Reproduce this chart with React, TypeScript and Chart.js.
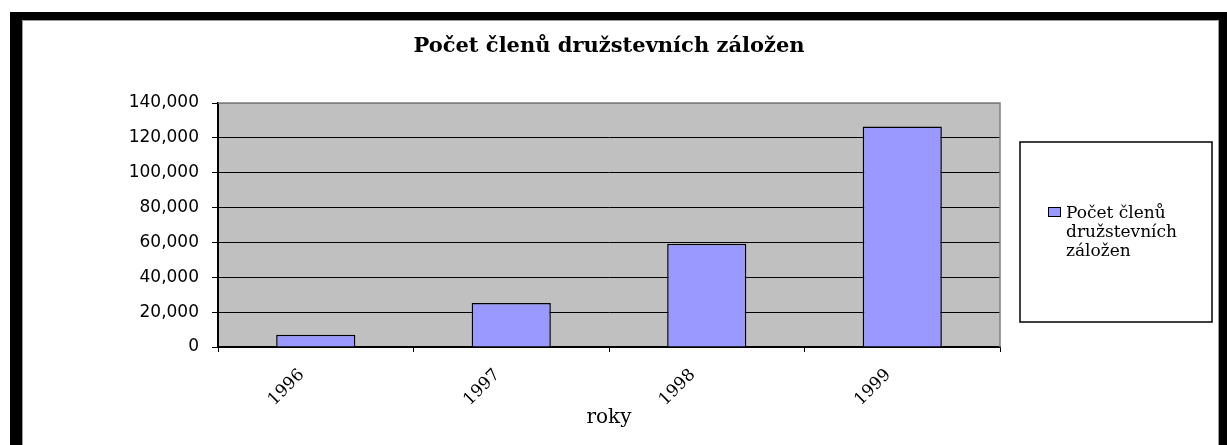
import React, { useEffect, useRef } from 'react';
import { Chart, registerables } from 'chart.js';

Chart.register(...registerables);

const chartTitle = 'Počet členů družstevních záložen';
const categories = ['1996', '1997', '1998', '1999'];
const memberCounts = [7000, 25300, 59300, 126500];
const seriesLabel = 'Počet členů družstevních záložen';
const legendLines = ['Počet členů', 'družstevních', 'záložen'];
const xAxisTitle = 'roky';
const yMin = 0;
const yMax = 140000;
const yStep = 20000;

const plotDecor = {
  id: 'plotDecor',
  beforeDraw(chart: any) {
    const { ctx, chartArea: a } = chart;
    ctx.save();
    ctx.fillStyle = '#ffffff';
    ctx.fillRect(0, 0, chart.width, chart.height);
    ctx.fillStyle = '#c0c0c0';
    ctx.fillRect(a.left, a.top, a.right - a.left, a.bottom - a.top);
    ctx.restore();
  },
  beforeDatasetsDraw(chart: any) {
    const { ctx, chartArea: a } = chart;
    ctx.save();
    ctx.strokeStyle = '#808080';
    ctx.lineWidth = 1.5;
    ctx.beginPath();
    ctx.moveTo(a.left, a.top);
    ctx.lineTo(a.right, a.top);
    ctx.lineTo(a.right, a.bottom);
    ctx.stroke();
    ctx.restore();
  },
  afterDraw(chart: any) {
    const { ctx, chartArea: a } = chart;
    const ds = chart.data.datasets[0];
    const left = a.right + 20;
    const top = a.top + 39;
    const w = 192;
    const h = 180;
    ctx.save();
    ctx.fillStyle = '#ffffff';
    ctx.fillRect(left, top, w, h);
    ctx.strokeStyle = '#000000';
    ctx.lineWidth = 1.5;
    ctx.strokeRect(left, top, w, h);
    ctx.fillStyle = ds.backgroundColor;
    ctx.fillRect(left + 28, top + 65, 13, 10);
    ctx.lineWidth = 1;
    ctx.strokeStyle = '#000000';
    ctx.strokeRect(left + 28.5, top + 65.5, 12, 9);
    ctx.fillStyle = '#000000';
    ctx.font = '17px "DejaVu Serif"';
    ctx.textAlign = 'left';
    ctx.textBaseline = 'alphabetic';
    legendLines.forEach((line, i) => {
      ctx.fillText(line, left + 46, top + 76 + i * 19);
    });
    ctx.restore();
  },
};

export default function App() {
  const canvasRef = useRef<HTMLCanvasElement | null>(null);

  useEffect(() => {
    const canvas = canvasRef.current;
    if (!canvas) return;
    const chart = new Chart(canvas, {
      type: 'bar',
      data: {
        labels: categories,
        datasets: [
          {
            label: seriesLabel,
            data: memberCounts,
            backgroundColor: '#9999ff',
            borderColor: '#000000',
            borderWidth: 1.5,
            barPercentage: 0.9,
            categoryPercentage: 0.45,
          },
        ],
      },
      options: {
        animation: false,
        responsive: true,
        maintainAspectRatio: false,
        layout: { padding: { left: 0, right: 218, top: 0, bottom: 0 } },
        plugins: {
          legend: { display: false },
          tooltip: { enabled: false },
          title: {
            display: true,
            text: chartTitle,
            fullSize: false,
            color: '#000000',
            font: { family: '"DejaVu Serif"', size: 21, weight: 'bold', lineHeight: 1.2 },
            padding: { top: 13, bottom: 43.8 },
          },
        },
        scales: {
          x: {
            offset: true,
            afterFit: (scale: any) => {
              scale.height = 98;
            },
            grid: {
              display: true,
              offset: true,
              drawOnChartArea: false,
              drawTicks: true,
              tickLength: 5,
              color: '#000000',
              lineWidth: 1,
            },
            border: { display: true, color: '#000000', width: 1.5 },
            ticks: {
              color: '#000000',
              minRotation: 45,
              maxRotation: 45,
              padding: 13,
              labelOffset: -14,
              font: { family: '"DejaVu Serif"', size: 17 },
            },
            title: {
              display: true,
              text: xAxisTitle,
              color: '#000000',
              font: { family: '"DejaVu Serif"', size: 20 },
              padding: { top: 0, bottom: 15 },
            },
          },
          y: {
            min: yMin,
            max: yMax,
            afterFit: (scale: any) => {
              scale.width = 195;
            },
            grid: {
              color: (c: any) => (c.tick && c.tick.value === yMax ? '#808080' : '#000000'),
              tickColor: '#000000',
              lineWidth: 1,
              drawTicks: true,
              tickLength: 6,
            },
            border: { display: true, color: '#000000', width: 2 },
            ticks: {
              stepSize: yStep,
              color: '#000000',
              padding: 13,
              font: { family: '"DejaVu Sans"', size: 17 },
              callback: (v: any) => Number(v).toLocaleString('en-US'),
            },
          },
        },
      },
      plugins: [plotDecor],
    });
    return () => chart.destroy();
  }, []);

  return (
    <div
      style={{
        position: 'fixed',
        left: 0,
        top: 0,
        width: 1227,
        height: 445,
        overflow: 'hidden',
        background: '#ffffff',
      }}
    >
      <div
        style={{
          position: 'absolute',
          left: 10,
          top: 12,
          width: 1217,
          height: 500,
          boxSizing: 'border-box',
          borderStyle: 'solid',
          borderColor: '#000000',
          borderWidth: '8px 8px 0 12px',
        }}
      >
        <div
          style={{
            position: 'absolute',
            left: 0,
            top: 0,
            right: 0,
            bottom: 0,
            borderStyle: 'solid',
            borderColor: '#9a9a9a',
            borderWidth: '1px 1px 0 1px',
            background: '#ffffff',
          }}
        >
          <div style={{ position: 'absolute', left: 0, top: 0, width: 1195, height: 424 }}>
            <canvas ref={canvasRef} />
          </div>
        </div>
      </div>
    </div>
  );
}
